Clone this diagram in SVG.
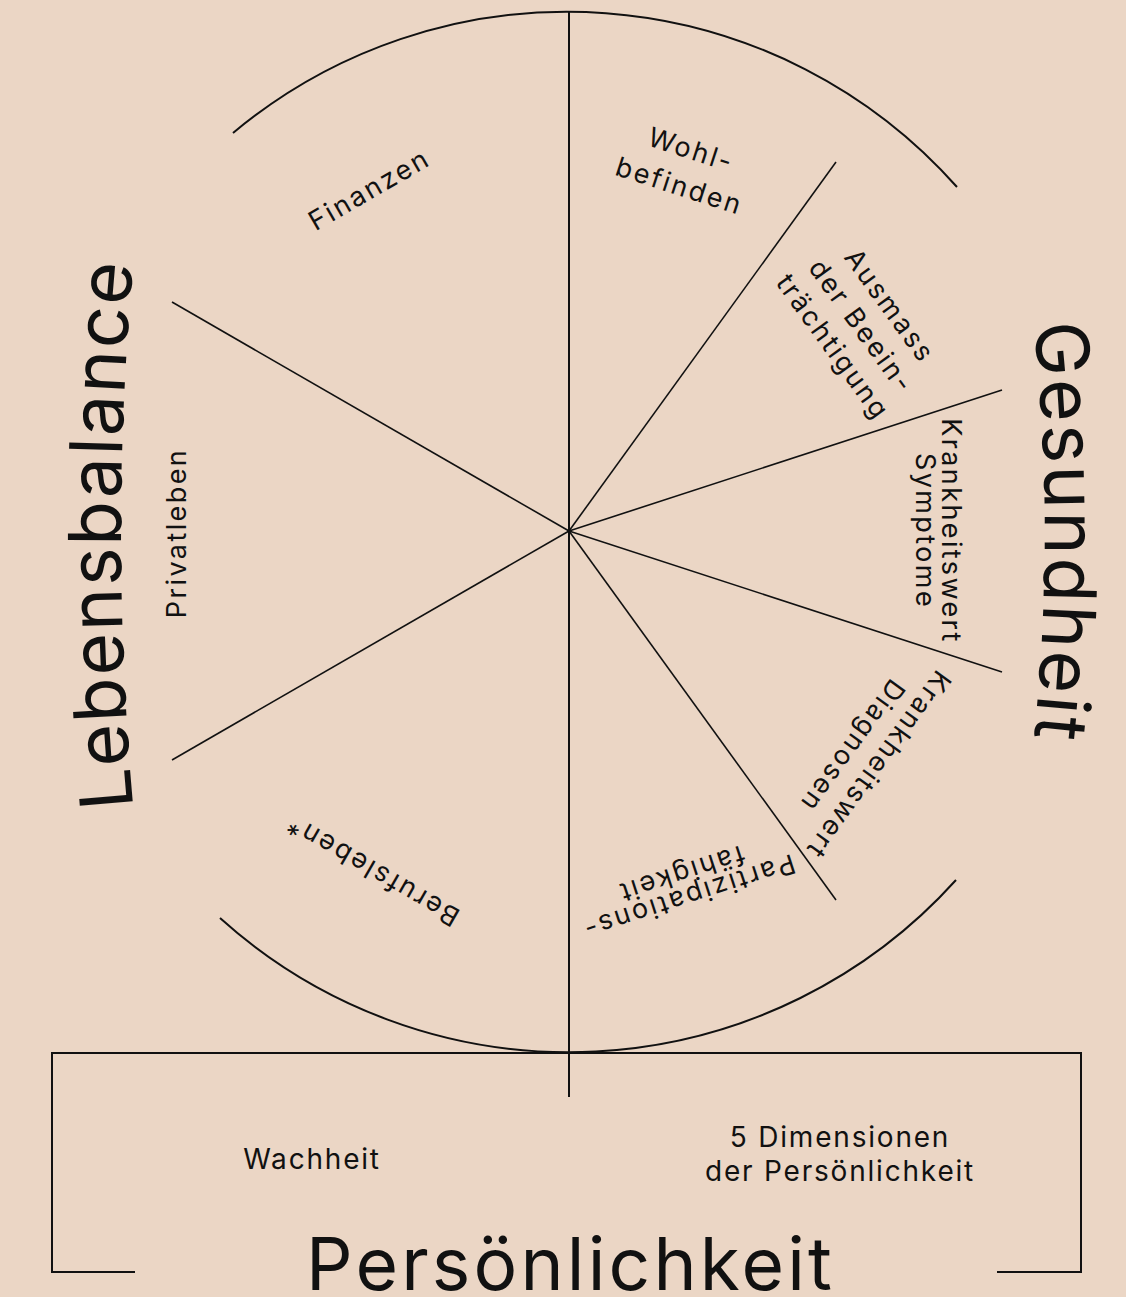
<svg xmlns="http://www.w3.org/2000/svg" width="1126" height="1297" viewBox="0 0 1126 1297">
<style>
.t{font-family:Inter,"Liberation Sans",Arial,sans-serif;fill:#111;}
.lbl{font-size:27px;letter-spacing:2.4px;text-anchor:middle;}
.box{font-size:28px;letter-spacing:1.8px;text-anchor:middle;}
.big{font-size:73px;}
.ln{stroke:#111;stroke-width:1.6;fill:none;stroke-linecap:butt;}
.arc{stroke:#111;stroke-width:2;fill:none;}
</style>
<defs>
<path id="pL" d="M 136 835 A 3000 3000 0 0 1 136 235"/>
<path id="pG" d="M 1022 232 A 2000 2000 0 0 1 1022 832"/>
</defs>
<rect width="1126" height="1297" fill="#EBD6C5"/>
<g id="connectors">
<path class="arc" d="M 233 133 A 521 521 0 0 1 957 187"/>
<path class="arc" d="M 956 880 A 521 521 0 0 1 220 918"/>
<line class="arc" x1="569" y1="12" x2="569" y2="1097"/>
<line class="ln" x1="569" y1="531" x2="836" y2="162"/>
<line class="ln" x1="569" y1="531" x2="1002" y2="390"/>
<line class="ln" x1="569" y1="531" x2="1002" y2="672"/>
<line class="ln" x1="569" y1="531" x2="836" y2="900"/>
<line class="ln" x1="569" y1="531" x2="172" y2="760"/>
<line class="ln" x1="569" y1="531" x2="172" y2="302"/>
</g>
<g id="persoenlichkeit-box">
<path class="arc" d="M 135 1272 H 52 V 1053 H 1081 V 1272 H 997"/>
<text class="t big" x="306" y="1290" font-size="75" textLength="526" lengthAdjust="spacing">Persönlichkeit</text>
</g>
<g id="wachheit"><text class="t box" x="312" y="1169">Wachheit</text></g>
<g id="dimensionen"><text class="t box" x="840" y="1147">5 Dimensionen</text><text class="t box" x="840" y="1181">der Persönlichkeit</text></g>
<g id="lebensbalance"><text class="t big" letter-spacing="1.6"><textPath href="#pL" startOffset="50%" text-anchor="middle">Lebensbalance</textPath></text></g>
<g id="gesundheit"><text class="t big" font-size="74" letter-spacing="2.3"><textPath href="#pG" startOffset="50%" text-anchor="middle">Gesundheit</textPath></text></g>
<g id="wohlbefinden" transform="translate(684,172) rotate(18)"><text class="t lbl" x="0" y="-14">Wohl-</text><text class="t lbl" x="0" y="24">befinden</text></g>
<g id="ausmass" transform="translate(862,326) rotate(54)"><text class="t lbl" x="0" y="-25">Ausmass</text><text class="t lbl" x="0" y="10">der Beein-</text><text class="t lbl" x="0" y="45">trächtigung</text></g>
<g id="symptome" transform="translate(929,531) rotate(90)"><text class="t lbl" x="0" y="-13">Krankheitswert</text><text class="t lbl" x="0" y="13">Symptome</text></g>
<g id="diagnosen" transform="translate(866,756) rotate(126)"><text class="t lbl" x="0" y="-6">Krankheitswert</text><text class="t lbl" x="0" y="26">Diagnosen</text></g>
<g id="partizipation" transform="translate(686,888) rotate(162)"><text class="t lbl" x="0" y="0">Partizipations-</text><text class="t lbl" x="0" y="24">fähigkeit</text></g>
<g id="finanzen" transform="translate(369,189) rotate(-30)"><text class="t lbl" x="0" y="10">Finanzen</text></g>
<g id="privatleben" transform="translate(186,533) rotate(-90)"><text class="t lbl" x="0" y="0">Privatleben</text></g>
<g id="berufsleben" transform="translate(372,871) rotate(210)"><text class="t lbl" x="0" y="10">Berufsleben*</text></g>
</svg>
